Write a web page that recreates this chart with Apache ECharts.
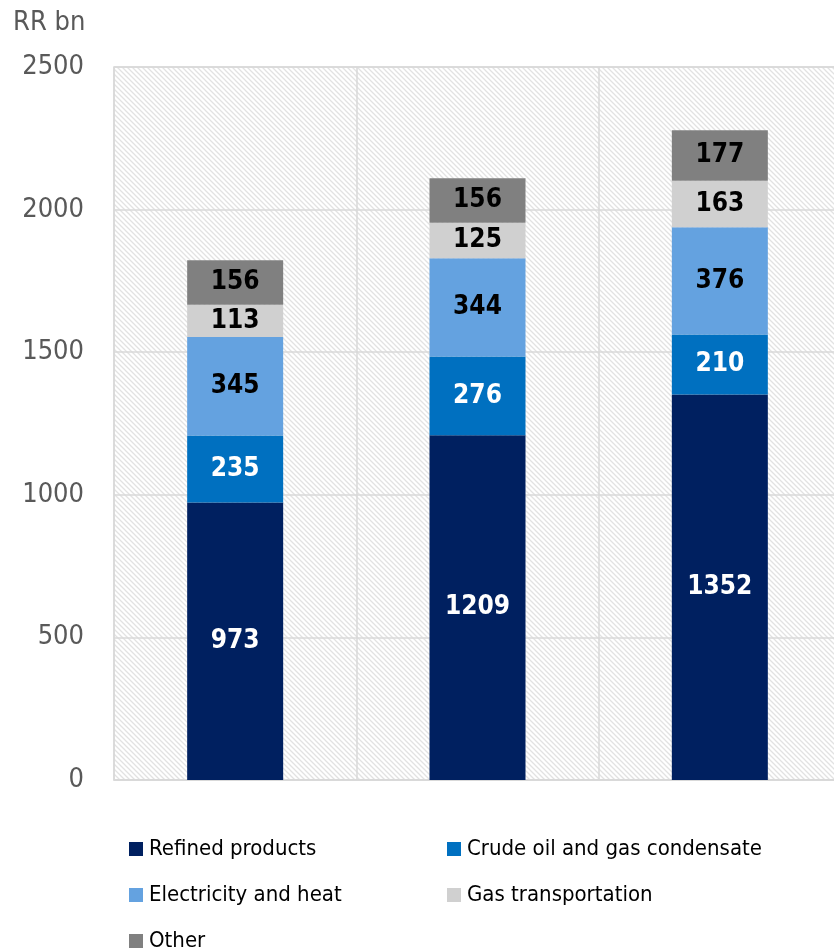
<!DOCTYPE html>
<html>
<head>
<meta charset="utf-8">
<script src="https://cdn.jsdelivr.net/npm/echarts@6/dist/echarts.min.js"></script>
<style>
  html, body { margin: 0; padding: 0; background: #fff; }
  #chart { width: 834px; height: 952px; }
</style>
</head>
<body>
<div id="chart"></div>
<script>
// Revenue breakdown by segment, RR bn
var categories = ['1', '2', '3'];
var refinedProducts = [973, 1209, 1352];
var crudeOilAndCondensate = [235, 276, 210];
var electricityAndHeat = [345, 344, 376];
var gasTransportation = [113, 125, 163];
var other = [156, 156, 177];
var yTicks = { min: 0, max: 2500, interval: 500 };

var seriesNames = ['Refined products', 'Crude oil and gas condensate', 'Electricity and heat', 'Gas transportation', 'Other'];
var seriesData = [refinedProducts, crudeOilAndCondensate, electricityAndHeat, gasTransportation, other];
var seriesColors = ['#002060', '#0070C0', '#64A2E0', '#D0D0D0', '#808080'];
var labelColors = ['#ffffff', '#ffffff', '#000000', '#000000', '#000000'];

var FONT = "'DejaVu Sans Condensed', 'Liberation Sans Narrow', sans-serif";

// diagonal hatch tile for the plot background
function hatchTile() {
  var p = 5;
  var c = document.createElement('canvas');
  c.width = p; c.height = p;
  var g = c.getContext('2d');
  g.fillStyle = '#ffffff';
  g.fillRect(0, 0, p, p);
  g.strokeStyle = '#e2e2e2';
  g.lineWidth = 1.3;
  g.beginPath();
  g.moveTo(-1, -1); g.lineTo(p + 1, p + 1);
  g.moveTo(-1, p - 1); g.lineTo(1, p + 1);
  g.moveTo(p - 1, -1); g.lineTo(p + 1, 1);
  g.stroke();
  return c;
}

var series = seriesNames.map(function (name, i) {
  return {
    name: name,
    type: 'bar',
    stack: 'total',
    barWidth: 96,
    data: seriesData[i],
    itemStyle: { color: seriesColors[i] },
    label: {
      show: true,
      position: 'inside',
      color: labelColors[i],
      fontFamily: FONT,
      fontSize: 26,
      fontWeight: 'bold'
    },
    emphasis: { disabled: true }
  };
});

// legend laid out in two columns
var legendSlots = [
  { left: 129, top: 849 },
  { left: 447, top: 849 },
  { left: 129, top: 895 },
  { left: 447, top: 895 },
  { left: 129, top: 941 }
];
var legends = seriesNames.map(function (name, i) {
  return {
    data: [{ name: name, icon: 'rect' }],
    left: legendSlots[i].left,
    top: legendSlots[i].top - 15,
    padding: 0,
    itemWidth: 14,
    itemHeight: 14,
    itemGap: 0,
    selectedMode: false,
    textStyle: { fontFamily: FONT, fontSize: 22, color: '#000000', lineHeight: 30, padding: [0, 0, 0, 1] }
  };
});

var chart = echarts.init(document.getElementById('chart'), null, { renderer: 'canvas' });
chart.setOption({
  animation: false,
  title: {
    text: 'RR bn',
    left: 13,
    top: 9,
    padding: 0,
    textStyle: { fontFamily: FONT, fontSize: 27, fontWeight: 'normal', color: '#595959' }
  },
  legend: legends,
  grid: {
    left: 114,
    width: 727,
    top: 67,
    bottom: 172,
    outerBoundsMode: 'none',
    show: true,
    backgroundColor: { image: hatchTile(), repeat: 'repeat' },
    borderColor: '#d9d9d9',
    borderWidth: 1.5
  },
  xAxis: {
    type: 'category',
    data: categories,
    axisLabel: { show: false },
    axisTick: { show: false },
    axisLine: { show: true, lineStyle: { color: '#d9d9d9', width: 1.5 } },
    splitLine: { show: true, lineStyle: { color: '#d9d9d9', width: 1.5 } }
  },
  yAxis: {
    type: 'value',
    min: yTicks.min,
    max: yTicks.max,
    interval: yTicks.interval,
    axisLine: { show: false },
    axisTick: { show: false },
    axisLabel: {
      fontFamily: FONT, fontSize: 27, color: '#595959', margin: 30,
      formatter: function (v) { return String(v); }
    },
    splitLine: { show: true, lineStyle: { color: '#d9d9d9', width: 1.5 } }
  },
  series: series
});
</script>
</body>
</html>
